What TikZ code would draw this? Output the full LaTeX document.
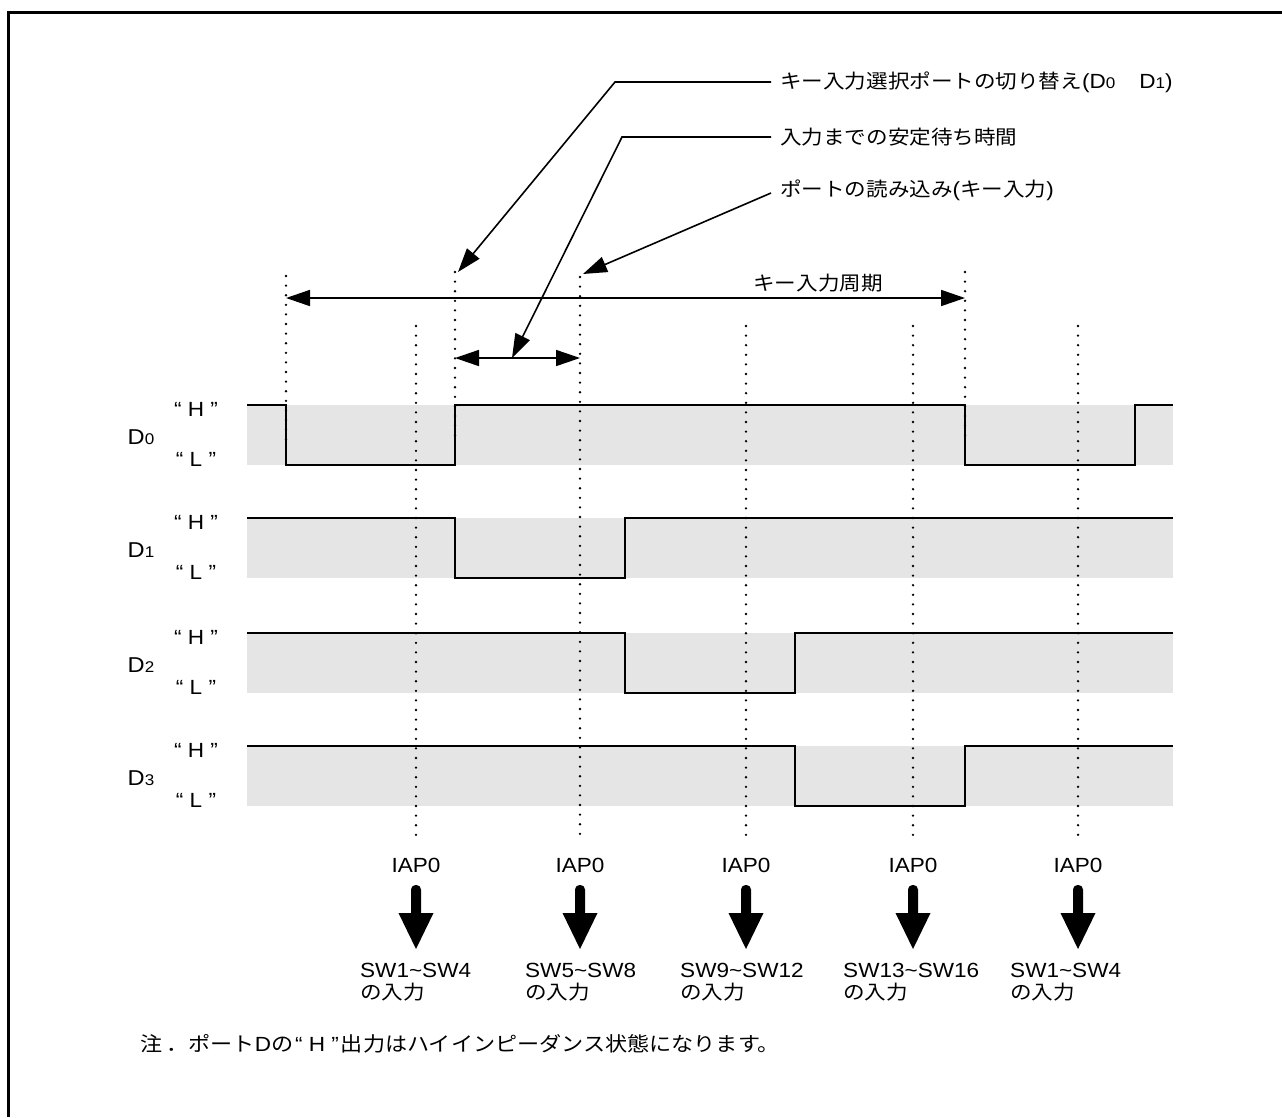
\documentclass[tikz,border=0pt]{standalone}
\usepackage{fontspec}
\setmainfont[FakeStretch=1.1]{Liberation Sans}
\newfontfamily\jp[FakeStretch=1.1]{Noto Sans CJK JP}
\usetikzlibrary{arrows.meta}
\definecolor{bandgray}{HTML}{E5E5E5}
\newcommand\Dsub[1]{D{\fontsize{15.5}{15.5}\selectfont #1}}
\newcommand\jpf{\jp\fontsize{19.6}{23}\selectfont}
\newcommand\jpn{\jp\fontsize{20.1}{23}\selectfont}
\begin{document}
\begin{tikzpicture}[x=1pt,y=-1pt,
  every node/.style={inner sep=0pt,font=\fontsize{20.5}{23}\selectfont},
  sig/.style={line width=2.2pt},
  dotline/.style={line width=2.6pt,line cap=round,dash pattern=on 0pt off 9.6pt},
  arr/.style={line width=1.6pt,-{Triangle[length=24pt,width=16pt]}},
  darr/.style={line width=1.6pt,{Triangle[length=24pt,width=16pt]}-{Triangle[length=24pt,width=16pt]}},
  lvl/.style={anchor=center},
  dlab/.style={anchor=center,font=\fontsize{21.5}{23}\selectfont},
  swlab/.style={anchor=north west,align=left}]
\useasboundingbox (0,0) rectangle (1282,1117);
\draw[line width=3pt] (8,1117) -- (8,12) -- (1282,12);

% bands
\fill[bandgray] (247,405) rectangle (1173,465);
\fill[bandgray] (247,518) rectangle (1173,578);
\fill[bandgray] (247,633) rectangle (1173,693);
\fill[bandgray] (247,746) rectangle (1173,806);

% dotted guide lines
\draw[dotline] (286,276) -- (286,440);
\draw[dotline] (455,272) -- (455,440);
\draw[dotline] (965,272) -- (965,440);
\draw[dotline] (580,277) -- (580,836);
\foreach \x in {416,746,913,1078} \draw[dotline] (\x,326) -- (\x,836);

% signals
\draw[sig] (247,405) -- (286,405) -- (286,465) -- (455,465) -- (455,405) -- (965,405) -- (965,465) -- (1135,465) -- (1135,405) -- (1173,405);
\draw[sig] (247,518) -- (455,518) -- (455,578) -- (625,578) -- (625,518) -- (1173,518);
\draw[sig] (247,633) -- (625,633) -- (625,693) -- (795,693) -- (795,633) -- (1173,633);
\draw[sig] (247,746) -- (795,746) -- (795,806) -- (965,806) -- (965,746) -- (1173,746);

% level labels
\foreach \t/\n in {405/0,518/1,633/2,746/3}{
  \node[lvl] (h\n) at (196,\t+4) {“ H ”};
  \node[lvl] (l\n) at (196,\t+54) {“ L ”};
  \node[dlab] (d\n) at (141,\t+32) {\Dsub{\n}};
}

% cycle arrow
\coordinate (c0) at (286,298);
\coordinate (c1) at (965,298);
\draw[darr] (c0) -- (c1);
\node (cyc) at (818,283) {\jpf キー入力周期};
\coordinate (s0) at (455,358);
\coordinate (s1) at (580,358);
\draw[darr] (s0) -- (s1);

% pointer labels
\node[anchor=west] (t1) at (780,82) {{\jpf キー入力選択ポートの切り替え}(\Dsub0\hspace{24pt}\Dsub1)};
\node[anchor=west] (t2) at (780,137) {\jpf 入力までの安定待ち時間};
\node[anchor=west] (t3) at (780,190) {{\jpf ポートの読み込み}({\jpf キー入力})};
\coordinate (k1) at (615,82);
\coordinate (k2) at (622,137);
\coordinate (a1) at (458,272);
\coordinate (a2) at (512,358);
\coordinate (a3) at (583,274);
\draw[arr] ([xshift=-9pt]t1.west) -- (k1) -- (a1);
\draw[arr] ([xshift=-9pt]t2.west) -- (k2) -- (a2);
\draw[arr] ([xshift=-9pt,yshift=-3pt]t3.west) -- (a3);

% IAP0 arrows
\foreach \x/\lx/\lab [count=\i] in {416/360/SW1\textasciitilde SW4, 580/525/SW5\textasciitilde SW8, 746/680/SW9\textasciitilde SW12, 913/843/SW13\textasciitilde SW16, 1078/1010/SW1\textasciitilde SW4}{
  \node (iap\i) at (\x,865) {IAP0};
  \fill[rounded corners=4.5pt] (\x-5,917) -- (\x-5,885) -- (\x+5,885) -- (\x+5,917) -- cycle;
  \fill (\x-17.5,913) -- (\x+17.5,913) -- (\x,949) -- cycle;
  \node[swlab] (sw\i) at (\lx,963) {\lab\\[-1pt]{\jpf の入力}};
}

% note
\node[anchor=west] (note) at (140,1044) {{\jpn 注\hspace{4pt}．ポート}D{\jpn の}\hspace{2pt}“\ H\ ”\hspace{2pt}{\jpn 出力はハイインピーダンス状態になります。}};
\end{tikzpicture}
\end{document}
